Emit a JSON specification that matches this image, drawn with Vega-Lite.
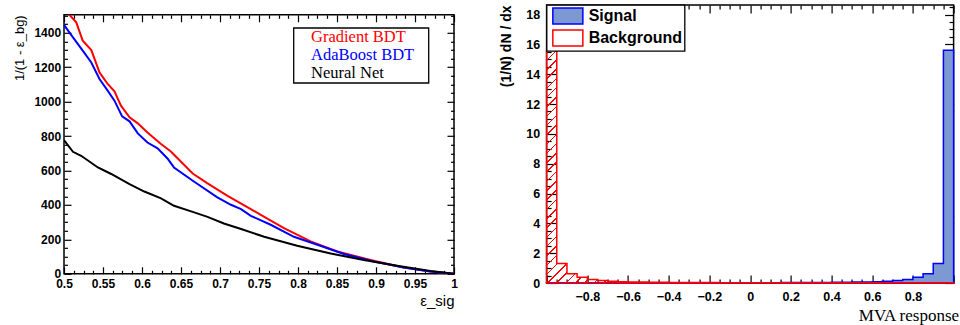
{
  "$schema": "https://vega.github.io/schema/vega-lite/v6.json",
  "padding": {"left": 12, "top": 0, "right": 0, "bottom": 0},
  "spacing": 38.6,
  "columns": 2,
  "datasets": {
    "roc": [
      {"m": "Gradient BDT", "e": 0.5, "v": 1540}, {"m": "Gradient BDT", "e": 0.5072, "v": 1504}, {"m": "Gradient BDT", "e": 0.5157, "v": 1461}, {"m": "Gradient BDT", "e": 0.524, "v": 1355}, {"m": "Gradient BDT", "e": 0.535, "v": 1300}, {"m": "Gradient BDT", "e": 0.5455, "v": 1170}, {"m": "Gradient BDT", "e": 0.556, "v": 1103}, {"m": "Gradient BDT", "e": 0.5647, "v": 1060}, {"m": "Gradient BDT", "e": 0.573, "v": 977}, {"m": "Gradient BDT", "e": 0.584, "v": 909}, {"m": "Gradient BDT", "e": 0.5946, "v": 874}, {"m": "Gradient BDT", "e": 0.607, "v": 821}, {"m": "Gradient BDT", "e": 0.6244, "v": 754}, {"m": "Gradient BDT", "e": 0.637, "v": 711}, {"m": "Gradient BDT", "e": 0.6478, "v": 661}, {"m": "Gradient BDT", "e": 0.665, "v": 583}, {"m": "Gradient BDT", "e": 0.684, "v": 525}, {"m": "Gradient BDT", "e": 0.7097, "v": 453}, {"m": "Gradient BDT", "e": 0.7395, "v": 376}, {"m": "Gradient BDT", "e": 0.7523, "v": 343}, {"m": "Gradient BDT", "e": 0.782, "v": 266}, {"m": "Gradient BDT", "e": 0.8162, "v": 188}, {"m": "Gradient BDT", "e": 0.8504, "v": 130}, {"m": "Gradient BDT", "e": 0.893, "v": 80}, {"m": "Gradient BDT", "e": 0.9355, "v": 37}, {"m": "Gradient BDT", "e": 0.9697, "v": 13}, {"m": "Gradient BDT", "e": 1.0, "v": 0},
      {"m": "AdaBoost BDT", "e": 0.5, "v": 1446}, {"m": "AdaBoost BDT", "e": 0.5115, "v": 1374}, {"m": "AdaBoost BDT", "e": 0.524, "v": 1297}, {"m": "AdaBoost BDT", "e": 0.535, "v": 1228}, {"m": "AdaBoost BDT", "e": 0.5455, "v": 1132}, {"m": "AdaBoost BDT", "e": 0.556, "v": 1064}, {"m": "AdaBoost BDT", "e": 0.5647, "v": 1006}, {"m": "AdaBoost BDT", "e": 0.5745, "v": 915}, {"m": "AdaBoost BDT", "e": 0.584, "v": 886}, {"m": "AdaBoost BDT", "e": 0.5946, "v": 816}, {"m": "AdaBoost BDT", "e": 0.607, "v": 763}, {"m": "AdaBoost BDT", "e": 0.62, "v": 729}, {"m": "AdaBoost BDT", "e": 0.6326, "v": 670}, {"m": "AdaBoost BDT", "e": 0.641, "v": 618}, {"m": "AdaBoost BDT", "e": 0.667, "v": 535}, {"m": "AdaBoost BDT", "e": 0.6966, "v": 444}, {"m": "AdaBoost BDT", "e": 0.714, "v": 401}, {"m": "AdaBoost BDT", "e": 0.727, "v": 376}, {"m": "AdaBoost BDT", "e": 0.7395, "v": 337}, {"m": "AdaBoost BDT", "e": 0.765, "v": 285}, {"m": "AdaBoost BDT", "e": 0.7948, "v": 215}, {"m": "AdaBoost BDT", "e": 0.8248, "v": 169}, {"m": "AdaBoost BDT", "e": 0.8589, "v": 115}, {"m": "AdaBoost BDT", "e": 0.8973, "v": 72}, {"m": "AdaBoost BDT", "e": 0.9355, "v": 37}, {"m": "AdaBoost BDT", "e": 0.9697, "v": 13}, {"m": "AdaBoost BDT", "e": 1.0, "v": 0},
      {"m": "Neural Net", "e": 0.5, "v": 777}, {"m": "Neural Net", "e": 0.5115, "v": 709}, {"m": "Neural Net", "e": 0.522, "v": 686}, {"m": "Neural Net", "e": 0.5435, "v": 618}, {"m": "Neural Net", "e": 0.5605, "v": 580}, {"m": "Neural Net", "e": 0.584, "v": 521}, {"m": "Neural Net", "e": 0.603, "v": 478}, {"m": "Neural Net", "e": 0.6244, "v": 438}, {"m": "Neural Net", "e": 0.641, "v": 395}, {"m": "Neural Net", "e": 0.665, "v": 360}, {"m": "Neural Net", "e": 0.684, "v": 331}, {"m": "Neural Net", "e": 0.705, "v": 292}, {"m": "Neural Net", "e": 0.727, "v": 260}, {"m": "Neural Net", "e": 0.7566, "v": 215}, {"m": "Neural Net", "e": 0.799, "v": 163}, {"m": "Neural Net", "e": 0.8419, "v": 118}, {"m": "Neural Net", "e": 0.8845, "v": 80}, {"m": "Neural Net", "e": 0.927, "v": 47}, {"m": "Neural Net", "e": 0.9697, "v": 17}, {"m": "Neural Net", "e": 1.0, "v": 0}
    ],
    "hist": [
      {"t": "Signal", "x": -1, "y": 0.01}, {"t": "Signal", "x": -0.95, "y": 0.01}, {"t": "Signal", "x": -0.9, "y": 0.01}, {"t": "Signal", "x": -0.85, "y": 0.01}, {"t": "Signal", "x": -0.8, "y": 0.01}, {"t": "Signal", "x": -0.75, "y": 0.01}, {"t": "Signal", "x": -0.7, "y": 0.01}, {"t": "Signal", "x": -0.65, "y": 0.01}, {"t": "Signal", "x": -0.6, "y": 0.01}, {"t": "Signal", "x": -0.55, "y": 0.01}, {"t": "Signal", "x": -0.5, "y": 0.01}, {"t": "Signal", "x": -0.45, "y": 0.01}, {"t": "Signal", "x": -0.4, "y": 0.015}, {"t": "Signal", "x": -0.35, "y": 0.015}, {"t": "Signal", "x": -0.3, "y": 0.015}, {"t": "Signal", "x": -0.25, "y": 0.015}, {"t": "Signal", "x": -0.2, "y": 0.015}, {"t": "Signal", "x": -0.15, "y": 0.02}, {"t": "Signal", "x": -0.1, "y": 0.02}, {"t": "Signal", "x": -0.05, "y": 0.02}, {"t": "Signal", "x": 0, "y": 0.02}, {"t": "Signal", "x": 0.05, "y": 0.025}, {"t": "Signal", "x": 0.1, "y": 0.025}, {"t": "Signal", "x": 0.15, "y": 0.03}, {"t": "Signal", "x": 0.2, "y": 0.03}, {"t": "Signal", "x": 0.25, "y": 0.035}, {"t": "Signal", "x": 0.3, "y": 0.04}, {"t": "Signal", "x": 0.35, "y": 0.04}, {"t": "Signal", "x": 0.4, "y": 0.05}, {"t": "Signal", "x": 0.45, "y": 0.05}, {"t": "Signal", "x": 0.5, "y": 0.06}, {"t": "Signal", "x": 0.55, "y": 0.07}, {"t": "Signal", "x": 0.6, "y": 0.09}, {"t": "Signal", "x": 0.65, "y": 0.12}, {"t": "Signal", "x": 0.7, "y": 0.16}, {"t": "Signal", "x": 0.75, "y": 0.24}, {"t": "Signal", "x": 0.8, "y": 0.38}, {"t": "Signal", "x": 0.85, "y": 0.62}, {"t": "Signal", "x": 0.9, "y": 1.3}, {"t": "Signal", "x": 0.95, "y": 15.6}, {"t": "Signal", "x": 1, "y": 15.6},
      {"t": "Background", "x": -1, "y": 15.6}, {"t": "Background", "x": -0.95, "y": 1.3}, {"t": "Background", "x": -0.9, "y": 0.62}, {"t": "Background", "x": -0.85, "y": 0.38}, {"t": "Background", "x": -0.8, "y": 0.24}, {"t": "Background", "x": -0.75, "y": 0.16}, {"t": "Background", "x": -0.7, "y": 0.12}, {"t": "Background", "x": -0.65, "y": 0.09}, {"t": "Background", "x": -0.6, "y": 0.07}, {"t": "Background", "x": -0.55, "y": 0.06}, {"t": "Background", "x": -0.5, "y": 0.05}, {"t": "Background", "x": -0.45, "y": 0.05}, {"t": "Background", "x": -0.4, "y": 0.04}, {"t": "Background", "x": -0.35, "y": 0.04}, {"t": "Background", "x": -0.3, "y": 0.035}, {"t": "Background", "x": -0.25, "y": 0.03}, {"t": "Background", "x": -0.2, "y": 0.03}, {"t": "Background", "x": -0.15, "y": 0.025}, {"t": "Background", "x": -0.1, "y": 0.025}, {"t": "Background", "x": -0.05, "y": 0.02}, {"t": "Background", "x": 0, "y": 0.02}, {"t": "Background", "x": 0.05, "y": 0.02}, {"t": "Background", "x": 0.1, "y": 0.02}, {"t": "Background", "x": 0.15, "y": 0.015}, {"t": "Background", "x": 0.2, "y": 0.015}, {"t": "Background", "x": 0.25, "y": 0.015}, {"t": "Background", "x": 0.3, "y": 0.015}, {"t": "Background", "x": 0.35, "y": 0.015}, {"t": "Background", "x": 0.4, "y": 0.01}, {"t": "Background", "x": 0.45, "y": 0.01}, {"t": "Background", "x": 0.5, "y": 0.01}, {"t": "Background", "x": 0.55, "y": 0.01}, {"t": "Background", "x": 0.6, "y": 0.01}, {"t": "Background", "x": 0.65, "y": 0.01}, {"t": "Background", "x": 0.7, "y": 0.01}, {"t": "Background", "x": 0.75, "y": 0.01}, {"t": "Background", "x": 0.8, "y": 0.01}, {"t": "Background", "x": 0.85, "y": 0.01}, {"t": "Background", "x": 0.9, "y": 0.01}, {"t": "Background", "x": 0.95, "y": 0.01}, {"t": "Background", "x": 1, "y": 0.01}
    ]
  },
  "concat": [
    {
      "vconcat": [
        {
          "width": 390,
          "height": 1,
          "data": {"values": []},
          "mark": {"type": "point", "opacity": 0},
          "view": {"stroke": null}
        },
        {
          "width": 390,
          "height": 259,
          "data": {"name": "roc"},
          "layer": [
            {
              "mark": {"type": "line", "strokeWidth": 2, "clip": true},
              "encoding": {
                "x": {
                  "field": "e", "type": "quantitative",
                  "scale": {"domain": [0.5, 1], "nice": false, "zero": false},
                  "axis": {
                    "orient": "bottom",
                    "values": [0.5, 0.5125, 0.525, 0.5375, 0.55, 0.5625, 0.575, 0.5875, 0.6, 0.6125, 0.625, 0.6375, 0.65, 0.6625, 0.675, 0.6875, 0.7, 0.7125, 0.725, 0.7375, 0.75, 0.7625, 0.775, 0.7875, 0.8, 0.8125, 0.825, 0.8375, 0.85, 0.8625, 0.875, 0.8875, 0.9, 0.9125, 0.925, 0.9375, 0.95, 0.9625, 0.975, 0.9875, 1],
                    "tickSize": {"condition": {"test": "abs(datum.value*20-round(datum.value*20))<0.001", "value": -7}, "value": -3.5},
                    "labelExpr": "abs(datum.value*20-round(datum.value*20))<0.001 ? format(datum.value,'~g') : ''",
                    "labelFontSize": 12,
                    "labelPadding": 12,
                    "title": "ε_sig",
                    "titleAnchor": "end",
                    "titleFontSize": 15,
                    "titleFontWeight": "normal",
                    "titlePadding": 0
                  }
                },
                "y": {
                  "field": "v", "type": "quantitative",
                  "scale": {"domain": [0, 1505], "nice": false},
                  "axis": {
                    "orient": "left",
                    "values": [0, 50, 100, 150, 200, 250, 300, 350, 400, 450, 500, 550, 600, 650, 700, 750, 800, 850, 900, 950, 1000, 1050, 1100, 1150, 1200, 1250, 1300, 1350, 1400, 1450, 1500],
                    "tickSize": {"condition": {"test": "datum.value % 200 === 0", "value": -7}, "value": -3.5},
                    "labelExpr": "datum.value % 200 === 0 ? format(datum.value,'d') : ''",
                    "labelFontSize": 12,
                    "labelPadding": 10.4,
                    "title": "1/(1 - ε_bg)",
                    "titleAnchor": "end",
                    "titleFontSize": 13,
                    "titleFontWeight": "normal",
                    "titlePadding": 8,
                    "minExtent": 30,
                    "maxExtent": 30
                  }
                },
                "color": {
                  "field": "m", "type": "nominal",
                  "scale": {"domain": ["Gradient BDT", "AdaBoost BDT", "Neural Net"], "range": ["#ff0000", "#0000ff", "#000000"]},
                  "legend": {
                    "orient": "none", "legendX": 229.5, "legendY": 13,
                    "title": "ww", "titleOrient": "right", "titleColor": "rgba(0,0,0,0)", "titleFontSize": 8, "titlePadding": 1,
                    "strokeColor": "#000000", "fillColor": "#ffffff",
                    "padding": 0.5, "rowPadding": 1.2,
                    "symbolOpacity": 0, "symbolType": "circle", "symbolSize": 100,
                    "labelOffset": 0.5,
                    "labelFont": "Liberation Serif", "labelFontSize": 16.5, "labelFontWeight": "normal",
                    "encoding": {
                      "labels": {
                        "fill": {
                          "condition": [
                            {"test": "datum.value === 'Gradient BDT'", "value": "#ff0000"},
                            {"test": "datum.value === 'AdaBoost BDT'", "value": "#0000ff"}
                          ],
                          "value": "#000000"
                        }
                      }
                    }
                  }
                }
              }
            },
            {
              "mark": {"type": "line", "opacity": 0},
              "encoding": {
                "x": {
                  "field": "e", "type": "quantitative",
                  "scale": {"domain": [0.5, 1], "nice": false, "zero": false},
                  "axis": {
                    "orient": "top",
                    "values": [0.5, 0.5125, 0.525, 0.5375, 0.55, 0.5625, 0.575, 0.5875, 0.6, 0.6125, 0.625, 0.6375, 0.65, 0.6625, 0.675, 0.6875, 0.7, 0.7125, 0.725, 0.7375, 0.75, 0.7625, 0.775, 0.7875, 0.8, 0.8125, 0.825, 0.8375, 0.85, 0.8625, 0.875, 0.8875, 0.9, 0.9125, 0.925, 0.9375, 0.95, 0.9625, 0.975, 0.9875, 1],
                    "tickSize": {"condition": {"test": "abs(datum.value*20-round(datum.value*20))<0.001", "value": -7}, "value": -3.5},
                    "labels": false,
                    "title": null,
                    "minExtent": 0,
                    "maxExtent": 0
                  }
                },
                "y": {
                  "field": "v", "type": "quantitative",
                  "scale": {"domain": [0, 1505], "nice": false},
                  "axis": {
                    "orient": "right",
                    "values": [0, 50, 100, 150, 200, 250, 300, 350, 400, 450, 500, 550, 600, 650, 700, 750, 800, 850, 900, 950, 1000, 1050, 1100, 1150, 1200, 1250, 1300, 1350, 1400, 1450, 1500],
                    "tickSize": {"condition": {"test": "datum.value % 200 === 0", "value": -7}, "value": -3.5},
                    "labels": false,
                    "title": null,
                    "minExtent": 0,
                    "maxExtent": 0
                  }
                },
                "detail": {"field": "m", "type": "nominal"}
              }
            }
          ],
          "resolve": {"axis": {"x": "independent", "y": "independent"}}
        }
      ],
      "spacing": 1.8,
      "resolve": {"legend": {"color": "independent"}}
    },
    {
      "width": 407,
      "height": 278,
      "data": {"name": "hist"},
      "layer": [
        {
          "mark": {"type": "area", "interpolate": "step-after", "strokeWidth": 1.5, "fillOpacity": 1},
          "encoding": {
            "x": {
              "field": "x", "type": "quantitative",
              "scale": {"domain": [-1, 1], "nice": false, "zero": false},
              "axis": {
                "orient": "bottom",
                "values": [-1, -0.95, -0.9, -0.85, -0.8, -0.75, -0.7, -0.65, -0.6, -0.55, -0.5, -0.45, -0.4, -0.35, -0.3, -0.25, -0.2, -0.15, -0.1, -0.05, 0, 0.05, 0.1, 0.15, 0.2, 0.25, 0.3, 0.35, 0.4, 0.45, 0.5, 0.55, 0.6, 0.65, 0.7, 0.75, 0.8, 0.85, 0.9, 0.95, 1],
                "tickSize": {"condition": {"test": "abs(datum.value*5-round(datum.value*5))<0.001", "value": -8}, "value": -4},
                "labelExpr": "abs(datum.value*5-round(datum.value*5))<0.001 && abs(datum.value)<0.99 ? format(datum.value,'~g') : ''",
                "labelFontSize": 12.5,
                "labelPadding": 15,
                "title": "MVA response",
                "titleFont": "Liberation Serif",
                "titleFontSize": 17,
                "titleFontWeight": "normal",
                "titleAnchor": "end",
                "titleX": 412,
                "titleAlign": "right",
                "titlePadding": 1
              }
            },
            "y": {
              "field": "y", "type": "quantitative", "stack": null,
              "scale": {"domain": [0, 18.64], "nice": false},
              "axis": {
                "orient": "left",
                "values": [0, 0.5, 1, 1.5, 2, 2.5, 3, 3.5, 4, 4.5, 5, 5.5, 6, 6.5, 7, 7.5, 8, 8.5, 9, 9.5, 10, 10.5, 11, 11.5, 12, 12.5, 13, 13.5, 14, 14.5, 15, 15.5, 16, 16.5, 17, 17.5, 18, 18.5],
                "tickSize": {"condition": {"test": "datum.value % 2 === 0", "value": -9}, "value": -4.5},
                "labelExpr": "datum.value % 2 === 0 ? format(datum.value,'d') : ''",
                "labelFontSize": 12.5,
                "labelPadding": 16,
                "title": "(1/N) dN / dx",
                "titleAnchor": "end",
                "titleFontSize": 14,
                "titleFontWeight": "bold",
                "titlePadding": 12.5,
                "minExtent": 21,
                "maxExtent": 21
              }
            },
            "fill": {
              "field": "t", "type": "nominal",
              "scale": {"domain": ["Signal", "Background"], "range": ["#7d99d1", "rgba(255,255,255,0)"]},
              "legend": {
                "orient": "none", "legendX": 0, "legendY": 0, "title": null,
                "strokeColor": "#000000", "fillColor": "#ffffff",
                "padding": 2, "rowPadding": 0,
                "symbolType": "M-1.875,-1H1.875V1H-1.875Z", "symbolSize": 256, "symbolStrokeWidth": 1.5, "symbolOffset": 10.25,
                "labelOffset": 11.8, "labelFont": "Liberation Sans", "labelFontWeight": "bold", "labelFontSize": 16, "labelColor": "#000000"
              }
            },
            "stroke": {
              "field": "t", "type": "nominal",
              "scale": {"domain": ["Signal", "Background"], "range": ["#0000ff", "#ff0000"]},
              "legend": {
                "orient": "none", "legendX": 0, "legendY": 0, "title": null,
                "strokeColor": "#000000", "fillColor": "#ffffff",
                "padding": 2, "rowPadding": 0,
                "symbolType": "M-1.875,-1H1.875V1H-1.875Z", "symbolSize": 256, "symbolStrokeWidth": 1.5, "symbolOffset": 10.25,
                "labelOffset": 11.8, "labelFont": "Liberation Sans", "labelFontWeight": "bold", "labelFontSize": 16, "labelColor": "#000000"
              }
            }
          }
        },
        {
          "transform": [{"filter": "datum.t === 'Background'"}],
          "mark": {
            "type": "area", "interpolate": "step-after", "strokeWidth": 0,
            "fill": {
              "gradient": "linear", "x1": 0, "y1": 0, "x2": 1.3792, "y2": 0.7884,
              "stops": [
                {"offset": 0, "color": "#ff0000"}, {"offset": 0.002, "color": "#ff0000"}, {"offset": 0.002, "color": "rgba(255,0,0,0)"}, {"offset": 0.0125, "color": "rgba(255,0,0,0)"},
                {"offset": 0.0125, "color": "#ff0000"}, {"offset": 0.0145, "color": "#ff0000"}, {"offset": 0.0145, "color": "rgba(255,0,0,0)"}, {"offset": 0.025, "color": "rgba(255,0,0,0)"},
                {"offset": 0.025, "color": "#ff0000"}, {"offset": 0.027, "color": "#ff0000"}, {"offset": 0.027, "color": "rgba(255,0,0,0)"}, {"offset": 0.0375, "color": "rgba(255,0,0,0)"},
                {"offset": 0.0375, "color": "#ff0000"}, {"offset": 0.0395, "color": "#ff0000"}, {"offset": 0.0395, "color": "rgba(255,0,0,0)"}, {"offset": 0.05, "color": "rgba(255,0,0,0)"},
                {"offset": 0.05, "color": "#ff0000"}, {"offset": 0.052, "color": "#ff0000"}, {"offset": 0.052, "color": "rgba(255,0,0,0)"}, {"offset": 0.0625, "color": "rgba(255,0,0,0)"},
                {"offset": 0.0625, "color": "#ff0000"}, {"offset": 0.0645, "color": "#ff0000"}, {"offset": 0.0645, "color": "rgba(255,0,0,0)"}, {"offset": 0.075, "color": "rgba(255,0,0,0)"},
                {"offset": 0.075, "color": "#ff0000"}, {"offset": 0.077, "color": "#ff0000"}, {"offset": 0.077, "color": "rgba(255,0,0,0)"}, {"offset": 0.0875, "color": "rgba(255,0,0,0)"},
                {"offset": 0.0875, "color": "#ff0000"}, {"offset": 0.0895, "color": "#ff0000"}, {"offset": 0.0895, "color": "rgba(255,0,0,0)"}, {"offset": 0.1, "color": "rgba(255,0,0,0)"},
                {"offset": 0.1, "color": "#ff0000"}, {"offset": 0.102, "color": "#ff0000"}, {"offset": 0.102, "color": "rgba(255,0,0,0)"}, {"offset": 0.1125, "color": "rgba(255,0,0,0)"},
                {"offset": 0.1125, "color": "#ff0000"}, {"offset": 0.1145, "color": "#ff0000"}, {"offset": 0.1145, "color": "rgba(255,0,0,0)"}, {"offset": 0.125, "color": "rgba(255,0,0,0)"},
                {"offset": 0.125, "color": "#ff0000"}, {"offset": 0.127, "color": "#ff0000"}, {"offset": 0.127, "color": "rgba(255,0,0,0)"}, {"offset": 0.1375, "color": "rgba(255,0,0,0)"},
                {"offset": 0.1375, "color": "#ff0000"}, {"offset": 0.1395, "color": "#ff0000"}, {"offset": 0.1395, "color": "rgba(255,0,0,0)"}, {"offset": 0.15, "color": "rgba(255,0,0,0)"},
                {"offset": 0.15, "color": "#ff0000"}, {"offset": 0.152, "color": "#ff0000"}, {"offset": 0.152, "color": "rgba(255,0,0,0)"}, {"offset": 0.1625, "color": "rgba(255,0,0,0)"},
                {"offset": 0.1625, "color": "#ff0000"}, {"offset": 0.1645, "color": "#ff0000"}, {"offset": 0.1645, "color": "rgba(255,0,0,0)"}, {"offset": 0.175, "color": "rgba(255,0,0,0)"},
                {"offset": 0.175, "color": "#ff0000"}, {"offset": 0.177, "color": "#ff0000"}, {"offset": 0.177, "color": "rgba(255,0,0,0)"}, {"offset": 0.1875, "color": "rgba(255,0,0,0)"},
                {"offset": 0.1875, "color": "#ff0000"}, {"offset": 0.1895, "color": "#ff0000"}, {"offset": 0.1895, "color": "rgba(255,0,0,0)"}, {"offset": 0.2, "color": "rgba(255,0,0,0)"},
                {"offset": 0.2, "color": "#ff0000"}, {"offset": 0.202, "color": "#ff0000"}, {"offset": 0.202, "color": "rgba(255,0,0,0)"}, {"offset": 0.2125, "color": "rgba(255,0,0,0)"},
                {"offset": 0.2125, "color": "#ff0000"}, {"offset": 0.2145, "color": "#ff0000"}, {"offset": 0.2145, "color": "rgba(255,0,0,0)"}, {"offset": 0.225, "color": "rgba(255,0,0,0)"},
                {"offset": 0.225, "color": "#ff0000"}, {"offset": 0.227, "color": "#ff0000"}, {"offset": 0.227, "color": "rgba(255,0,0,0)"}, {"offset": 0.2375, "color": "rgba(255,0,0,0)"},
                {"offset": 0.2375, "color": "#ff0000"}, {"offset": 0.2395, "color": "#ff0000"}, {"offset": 0.2395, "color": "rgba(255,0,0,0)"}, {"offset": 0.25, "color": "rgba(255,0,0,0)"},
                {"offset": 0.25, "color": "#ff0000"}, {"offset": 0.252, "color": "#ff0000"}, {"offset": 0.252, "color": "rgba(255,0,0,0)"}, {"offset": 0.2625, "color": "rgba(255,0,0,0)"},
                {"offset": 0.2625, "color": "#ff0000"}, {"offset": 0.2645, "color": "#ff0000"}, {"offset": 0.2645, "color": "rgba(255,0,0,0)"}, {"offset": 0.275, "color": "rgba(255,0,0,0)"},
                {"offset": 0.275, "color": "#ff0000"}, {"offset": 0.277, "color": "#ff0000"}, {"offset": 0.277, "color": "rgba(255,0,0,0)"}, {"offset": 0.2875, "color": "rgba(255,0,0,0)"},
                {"offset": 0.2875, "color": "#ff0000"}, {"offset": 0.2895, "color": "#ff0000"}, {"offset": 0.2895, "color": "rgba(255,0,0,0)"}, {"offset": 0.3, "color": "rgba(255,0,0,0)"},
                {"offset": 0.3, "color": "#ff0000"}, {"offset": 0.302, "color": "#ff0000"}, {"offset": 0.302, "color": "rgba(255,0,0,0)"}, {"offset": 0.3125, "color": "rgba(255,0,0,0)"},
                {"offset": 0.3125, "color": "#ff0000"}, {"offset": 0.3145, "color": "#ff0000"}, {"offset": 0.3145, "color": "rgba(255,0,0,0)"}, {"offset": 0.325, "color": "rgba(255,0,0,0)"},
                {"offset": 0.325, "color": "#ff0000"}, {"offset": 0.327, "color": "#ff0000"}, {"offset": 0.327, "color": "rgba(255,0,0,0)"}, {"offset": 0.3375, "color": "rgba(255,0,0,0)"},
                {"offset": 0.3375, "color": "#ff0000"}, {"offset": 0.3395, "color": "#ff0000"}, {"offset": 0.3395, "color": "rgba(255,0,0,0)"}, {"offset": 0.35, "color": "rgba(255,0,0,0)"},
                {"offset": 0.35, "color": "#ff0000"}, {"offset": 0.352, "color": "#ff0000"}, {"offset": 0.352, "color": "rgba(255,0,0,0)"}, {"offset": 0.3625, "color": "rgba(255,0,0,0)"},
                {"offset": 0.3625, "color": "#ff0000"}, {"offset": 0.3645, "color": "#ff0000"}, {"offset": 0.3645, "color": "rgba(255,0,0,0)"}, {"offset": 0.375, "color": "rgba(255,0,0,0)"},
                {"offset": 0.375, "color": "#ff0000"}, {"offset": 0.377, "color": "#ff0000"}, {"offset": 0.377, "color": "rgba(255,0,0,0)"}, {"offset": 0.3875, "color": "rgba(255,0,0,0)"},
                {"offset": 0.3875, "color": "#ff0000"}, {"offset": 0.3895, "color": "#ff0000"}, {"offset": 0.3895, "color": "rgba(255,0,0,0)"}, {"offset": 0.4, "color": "rgba(255,0,0,0)"},
                {"offset": 0.4, "color": "#ff0000"}, {"offset": 0.402, "color": "#ff0000"}, {"offset": 0.402, "color": "rgba(255,0,0,0)"}, {"offset": 0.4125, "color": "rgba(255,0,0,0)"},
                {"offset": 0.4125, "color": "#ff0000"}, {"offset": 0.4145, "color": "#ff0000"}, {"offset": 0.4145, "color": "rgba(255,0,0,0)"}, {"offset": 0.425, "color": "rgba(255,0,0,0)"},
                {"offset": 0.425, "color": "#ff0000"}, {"offset": 0.427, "color": "#ff0000"}, {"offset": 0.427, "color": "rgba(255,0,0,0)"}, {"offset": 0.4375, "color": "rgba(255,0,0,0)"},
                {"offset": 0.4375, "color": "#ff0000"}, {"offset": 0.4395, "color": "#ff0000"}, {"offset": 0.4395, "color": "rgba(255,0,0,0)"}, {"offset": 0.45, "color": "rgba(255,0,0,0)"},
                {"offset": 0.45, "color": "#ff0000"}, {"offset": 0.452, "color": "#ff0000"}, {"offset": 0.452, "color": "rgba(255,0,0,0)"}, {"offset": 0.4625, "color": "rgba(255,0,0,0)"},
                {"offset": 0.4625, "color": "#ff0000"}, {"offset": 0.4645, "color": "#ff0000"}, {"offset": 0.4645, "color": "rgba(255,0,0,0)"}, {"offset": 0.475, "color": "rgba(255,0,0,0)"},
                {"offset": 0.475, "color": "#ff0000"}, {"offset": 0.477, "color": "#ff0000"}, {"offset": 0.477, "color": "rgba(255,0,0,0)"}, {"offset": 0.4875, "color": "rgba(255,0,0,0)"},
                {"offset": 0.4875, "color": "#ff0000"}, {"offset": 0.4895, "color": "#ff0000"}, {"offset": 0.4895, "color": "rgba(255,0,0,0)"}, {"offset": 0.5, "color": "rgba(255,0,0,0)"},
                {"offset": 0.5, "color": "#ff0000"}, {"offset": 0.502, "color": "#ff0000"}, {"offset": 0.502, "color": "rgba(255,0,0,0)"}, {"offset": 0.5125, "color": "rgba(255,0,0,0)"},
                {"offset": 0.5125, "color": "#ff0000"}, {"offset": 0.5145, "color": "#ff0000"}, {"offset": 0.5145, "color": "rgba(255,0,0,0)"}, {"offset": 0.525, "color": "rgba(255,0,0,0)"},
                {"offset": 0.525, "color": "#ff0000"}, {"offset": 0.527, "color": "#ff0000"}, {"offset": 0.527, "color": "rgba(255,0,0,0)"}, {"offset": 0.5375, "color": "rgba(255,0,0,0)"},
                {"offset": 0.5375, "color": "#ff0000"}, {"offset": 0.5395, "color": "#ff0000"}, {"offset": 0.5395, "color": "rgba(255,0,0,0)"}, {"offset": 0.55, "color": "rgba(255,0,0,0)"},
                {"offset": 0.55, "color": "#ff0000"}, {"offset": 0.552, "color": "#ff0000"}, {"offset": 0.552, "color": "rgba(255,0,0,0)"}, {"offset": 0.5625, "color": "rgba(255,0,0,0)"},
                {"offset": 0.5625, "color": "#ff0000"}, {"offset": 0.5645, "color": "#ff0000"}, {"offset": 0.5645, "color": "rgba(255,0,0,0)"}, {"offset": 0.575, "color": "rgba(255,0,0,0)"},
                {"offset": 0.575, "color": "#ff0000"}, {"offset": 0.577, "color": "#ff0000"}, {"offset": 0.577, "color": "rgba(255,0,0,0)"}, {"offset": 0.5875, "color": "rgba(255,0,0,0)"},
                {"offset": 0.5875, "color": "#ff0000"}, {"offset": 0.5895, "color": "#ff0000"}, {"offset": 0.5895, "color": "rgba(255,0,0,0)"}, {"offset": 0.6, "color": "rgba(255,0,0,0)"},
                {"offset": 0.6, "color": "#ff0000"}, {"offset": 0.602, "color": "#ff0000"}, {"offset": 0.602, "color": "rgba(255,0,0,0)"}, {"offset": 0.6125, "color": "rgba(255,0,0,0)"},
                {"offset": 0.6125, "color": "#ff0000"}, {"offset": 0.6145, "color": "#ff0000"}, {"offset": 0.6145, "color": "rgba(255,0,0,0)"}, {"offset": 0.625, "color": "rgba(255,0,0,0)"},
                {"offset": 0.625, "color": "#ff0000"}, {"offset": 0.627, "color": "#ff0000"}, {"offset": 0.627, "color": "rgba(255,0,0,0)"}, {"offset": 0.6375, "color": "rgba(255,0,0,0)"},
                {"offset": 0.6375, "color": "#ff0000"}, {"offset": 0.6395, "color": "#ff0000"}, {"offset": 0.6395, "color": "rgba(255,0,0,0)"}, {"offset": 0.65, "color": "rgba(255,0,0,0)"},
                {"offset": 0.65, "color": "#ff0000"}, {"offset": 0.652, "color": "#ff0000"}, {"offset": 0.652, "color": "rgba(255,0,0,0)"}, {"offset": 0.6625, "color": "rgba(255,0,0,0)"},
                {"offset": 0.6625, "color": "#ff0000"}, {"offset": 0.6645, "color": "#ff0000"}, {"offset": 0.6645, "color": "rgba(255,0,0,0)"}, {"offset": 0.675, "color": "rgba(255,0,0,0)"},
                {"offset": 0.675, "color": "#ff0000"}, {"offset": 0.677, "color": "#ff0000"}, {"offset": 0.677, "color": "rgba(255,0,0,0)"}, {"offset": 0.6875, "color": "rgba(255,0,0,0)"},
                {"offset": 0.6875, "color": "#ff0000"}, {"offset": 0.6895, "color": "#ff0000"}, {"offset": 0.6895, "color": "rgba(255,0,0,0)"}, {"offset": 0.7, "color": "rgba(255,0,0,0)"},
                {"offset": 0.7, "color": "#ff0000"}, {"offset": 0.702, "color": "#ff0000"}, {"offset": 0.702, "color": "rgba(255,0,0,0)"}, {"offset": 0.7125, "color": "rgba(255,0,0,0)"},
                {"offset": 0.7125, "color": "#ff0000"}, {"offset": 0.7145, "color": "#ff0000"}, {"offset": 0.7145, "color": "rgba(255,0,0,0)"}, {"offset": 0.725, "color": "rgba(255,0,0,0)"},
                {"offset": 0.725, "color": "#ff0000"}, {"offset": 0.727, "color": "#ff0000"}, {"offset": 0.727, "color": "rgba(255,0,0,0)"}, {"offset": 0.7375, "color": "rgba(255,0,0,0)"},
                {"offset": 0.7375, "color": "#ff0000"}, {"offset": 0.7395, "color": "#ff0000"}, {"offset": 0.7395, "color": "rgba(255,0,0,0)"}, {"offset": 0.75, "color": "rgba(255,0,0,0)"},
                {"offset": 0.75, "color": "#ff0000"}, {"offset": 0.752, "color": "#ff0000"}, {"offset": 0.752, "color": "rgba(255,0,0,0)"}, {"offset": 0.7625, "color": "rgba(255,0,0,0)"},
                {"offset": 0.7625, "color": "#ff0000"}, {"offset": 0.7645, "color": "#ff0000"}, {"offset": 0.7645, "color": "rgba(255,0,0,0)"}, {"offset": 0.775, "color": "rgba(255,0,0,0)"},
                {"offset": 0.775, "color": "#ff0000"}, {"offset": 0.777, "color": "#ff0000"}, {"offset": 0.777, "color": "rgba(255,0,0,0)"}, {"offset": 0.7875, "color": "rgba(255,0,0,0)"},
                {"offset": 0.7875, "color": "#ff0000"}, {"offset": 0.7895, "color": "#ff0000"}, {"offset": 0.7895, "color": "rgba(255,0,0,0)"}, {"offset": 0.8, "color": "rgba(255,0,0,0)"},
                {"offset": 0.8, "color": "#ff0000"}, {"offset": 0.802, "color": "#ff0000"}, {"offset": 0.802, "color": "rgba(255,0,0,0)"}, {"offset": 0.8125, "color": "rgba(255,0,0,0)"},
                {"offset": 0.8125, "color": "#ff0000"}, {"offset": 0.8145, "color": "#ff0000"}, {"offset": 0.8145, "color": "rgba(255,0,0,0)"}, {"offset": 0.825, "color": "rgba(255,0,0,0)"},
                {"offset": 0.825, "color": "#ff0000"}, {"offset": 0.827, "color": "#ff0000"}, {"offset": 0.827, "color": "rgba(255,0,0,0)"}, {"offset": 0.8375, "color": "rgba(255,0,0,0)"},
                {"offset": 0.8375, "color": "#ff0000"}, {"offset": 0.8395, "color": "#ff0000"}, {"offset": 0.8395, "color": "rgba(255,0,0,0)"}, {"offset": 0.85, "color": "rgba(255,0,0,0)"},
                {"offset": 0.85, "color": "#ff0000"}, {"offset": 0.852, "color": "#ff0000"}, {"offset": 0.852, "color": "rgba(255,0,0,0)"}, {"offset": 1, "color": "rgba(255,0,0,0)"}
              ]
            }
          },
          "encoding": {
            "x": {
              "field": "x", "type": "quantitative",
              "scale": {"domain": [-1, 1], "nice": false, "zero": false},
              "axis": {
                "orient": "top",
                "values": [-1, -0.95, -0.9, -0.85, -0.8, -0.75, -0.7, -0.65, -0.6, -0.55, -0.5, -0.45, -0.4, -0.35, -0.3, -0.25, -0.2, -0.15, -0.1, -0.05, 0, 0.05, 0.1, 0.15, 0.2, 0.25, 0.3, 0.35, 0.4, 0.45, 0.5, 0.55, 0.6, 0.65, 0.7, 0.75, 0.8, 0.85, 0.9, 0.95, 1],
                "tickSize": {"condition": {"test": "abs(datum.value*5-round(datum.value*5))<0.001", "value": -8}, "value": -4},
                "labels": false,
                "title": null,
                "minExtent": 0,
                "maxExtent": 0
              }
            },
            "y": {
              "field": "y", "type": "quantitative", "stack": null,
              "scale": {"domain": [0, 18.64], "nice": false},
              "axis": {
                "orient": "right",
                "values": [0, 0.5, 1, 1.5, 2, 2.5, 3, 3.5, 4, 4.5, 5, 5.5, 6, 6.5, 7, 7.5, 8, 8.5, 9, 9.5, 10, 10.5, 11, 11.5, 12, 12.5, 13, 13.5, 14, 14.5, 15, 15.5, 16, 16.5, 17, 17.5, 18, 18.5],
                "tickSize": {"condition": {"test": "datum.value % 2 === 0", "value": -9}, "value": -4.5},
                "labels": false,
                "title": null,
                "minExtent": 0,
                "maxExtent": 0
              }
            }
          }
        }
      ],
      "resolve": {"axis": {"x": "independent", "y": "independent"}}
    }
  ],
  "resolve": {"legend": {"color": "independent", "fill": "independent", "stroke": "independent"}},
  "config": {
    "background": "#ffffff",
    "view": {"stroke": "#000000", "strokeWidth": 1.5},
    "legend": {"strokeWidth": 1.3},
    "axis": {
      "domain": false, "grid": false,
      "tickColor": "#000000", "tickWidth": 1.2,
      "labelColor": "#000000", "titleColor": "#000000",
      "labelFont": "Liberation Sans", "titleFont": "Liberation Sans",
      "labelFontWeight": "bold",
      "labelOverlap": false, "labelBound": false, "labelFlush": false
    }
  }
}
